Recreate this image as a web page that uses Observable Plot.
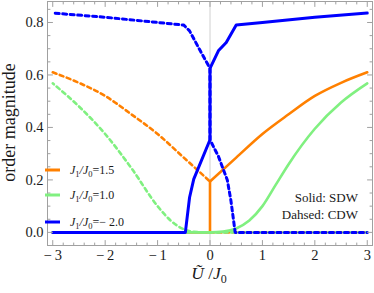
<!DOCTYPE html>
<html><head><meta charset="utf-8">
<script src="https://cdn.jsdelivr.net/npm/d3@7"></script>
<script src="https://cdn.jsdelivr.net/npm/@observablehq/plot@0.6"></script>
<style>html,body{margin:0;padding:0;background:#fff;}</style>
</head><body><div id="chart"></div>
<script>
// ---- series labels and colours
const seriesLabels = ["1.5", "1.0", "\u2212 2.0"];
const seriesColors = ["#ff8000", "#80f080", "#0000ff"];
const annotations = ["Solid: SDW", "Dahsed: CDW"];

// ---- J1/J0 = 1.5 (orange)
const orangeCDW_x = [-3, -2.5, -2, -1.5, -1, -0.5, 0];
const orangeCDW_y = [0.61, 0.57, 0.52, 0.45, 0.375, 0.285, 0.194];
const orangeCDWzero_x = [0, 3];
const orangeCDWzero_y = [0, 0];
const orangeSDWstep_x = [-3, 0, 0];
const orangeSDWstep_y = [0, 0, 0.194];
const orangeSDW_x = [0, 0.5, 1, 1.5, 2, 2.5, 3];
const orangeSDW_y = [0.194, 0.285, 0.375, 0.45, 0.52, 0.57, 0.61];

// ---- J1/J0 = 1.0 (green)
const greenCDW_x = [-3, -2.5, -2, -1.5, -1, -0.75, -0.5, -0.3, 0, 3];
const greenCDW_y = [0.568, 0.48, 0.375, 0.245, 0.1, 0.045, 0.012, 0.002, 0, 0];
const greenSDW_x = [-3, 0, 0.25, 0.5, 0.75, 1, 1.25, 1.5, 2, 2.5, 3];
const greenSDW_y = [0, 0, 0.003, 0.015, 0.045, 0.1, 0.18, 0.26, 0.395, 0.495, 0.568];

// ---- J1/J0 = -2.0 (blue)
const blueCDW_x = [-3, -2, -1, -0.5, -0.39, -0.185, 0, 0, 0.16, 0.33, 0.4, 0.48, 3];
const blueCDW_y = [0.836, 0.82, 0.80, 0.79, 0.768, 0.692, 0.625, 0.353, 0.29, 0.2, 0.12, 0, 0];
const blueSDW_x = [-3, -0.47, -0.39, -0.31, 0, 0, 0.16, 0.31, 0.5, 1, 2, 3];
const blueSDW_y = [0, 0, 0.133, 0.203, 0.353, 0.625, 0.692, 0.724, 0.79, 0.80, 0.82, 0.836];

// ---- ticks
const xTicks = [-3, -2, -1, 0, 1, 2, 3];
const xTickLabels = ["\u2212\u20093", "\u2212\u20092", "\u2212\u20091", "0", "1", "2", "3"];
const yTicks = [0, 0.2, 0.4, 0.6, 0.8];
const yTickLabels = ["0.0", "0.2", "0.4", "0.6", "0.8"];
const xMinor = d3.range(-3.0, 3.01, 0.2).map(v => +v.toFixed(2)).filter(v => Math.abs(v - Math.round(v)) > 1e-6);
const yMinor = d3.range(-0.05, 0.881, 0.05).map(v => +v.toFixed(2)).filter(v => Math.abs(v * 5 - Math.round(v * 5)) > 1e-6);

const rows = (xs, ys) => xs.map((x, i) => ({x, y: ys[i]}));
const font = "'Liberation Serif', 'Times New Roman', serif";
const frameColor = "#a0a0a0";
const tickShape = {draw(ctx, l) { ctx.moveTo(0, 0); ctx.lineTo(0, -l); }};
const tick = (data, horiz, anchor, rotate, len) =>
  (horiz ? Plot.vectorX : Plot.vectorY)(data, {
    [horiz ? "x" : "y"]: d => d, frameAnchor: anchor, anchor: "start",
    length: len, rotate, shape: tickShape, stroke: frameColor, strokeWidth: 1
  });

const dash = "4,3.5";
const plot = Plot.plot({
  width: 374, height: 293,
  marginLeft: 47, marginRight: 2, marginTop: 1, marginBottom: 48,
  x: {domain: [-3.1, 3.1], label: null},
  y: {domain: [-0.05, 0.88], label: null},
  style: {fontFamily: font, background: "#fff"},
  marks: [
    Plot.ruleX([0], {stroke: "#d0d0d0", strokeWidth: 1}),
    // orange
    Plot.line(rows(orangeCDW_x, orangeCDW_y), {x: "x", y: "y", stroke: seriesColors[0], strokeWidth: 2.6, strokeDasharray: dash, curve: "monotone-x"}),
    Plot.line(rows(orangeCDWzero_x, orangeCDWzero_y), {x: "x", y: "y", stroke: seriesColors[0], strokeWidth: 2.6, strokeDasharray: dash}),
    Plot.line(rows(orangeSDWstep_x, orangeSDWstep_y), {x: "x", y: "y", stroke: seriesColors[0], strokeWidth: 2.6}),
    Plot.line(rows(orangeSDW_x, orangeSDW_y), {x: "x", y: "y", stroke: seriesColors[0], strokeWidth: 2.6, curve: "monotone-x"}),
    // green
    Plot.line(rows(greenCDW_x, greenCDW_y), {x: "x", y: "y", stroke: seriesColors[1], strokeWidth: 2.6, strokeDasharray: dash, strokeDashoffset: 2.5, curve: "monotone-x"}),
    Plot.line(rows(greenSDW_x, greenSDW_y), {x: "x", y: "y", stroke: seriesColors[1], strokeWidth: 2.6, curve: "monotone-x"}),
    // blue
    Plot.line(rows(blueCDW_x, blueCDW_y), {x: "x", y: "y", stroke: seriesColors[2], strokeWidth: 3, strokeDasharray: dash, strokeDashoffset: 5}),
    Plot.line(rows(blueSDW_x, blueSDW_y), {x: "x", y: "y", stroke: seriesColors[2], strokeWidth: 3}),
    // frame + ticks
    Plot.frame({stroke: frameColor, strokeWidth: 1}),
    tick(xTicks, true, "bottom", 0, 5),
    tick(xMinor, true, "bottom", 0, 2.5),
    tick(xTicks, true, "top", 180, 5),
    tick(xMinor, true, "top", 180, 2.5),
    tick(yTicks, false, "left", 90, 5),
    tick(yMinor, false, "left", 90, 2.5),
    tick(yTicks, false, "right", -90, 5),
    tick(yMinor, false, "right", -90, 2.5),
    Plot.axisX(xTicks, {tickSize: 0, tickPadding: 4, fontSize: 14.5, fontFamily: font, fill: "#1a1a1a", label: null,
      tickFormat: d => xTickLabels[xTicks.indexOf(d)]}),
    Plot.axisY(yTicks, {tickSize: 0, tickPadding: 4, fontSize: 14.5, fontFamily: font, fill: "#1a1a1a", label: null,
      tickFormat: d => yTickLabels[yTicks.indexOf(d)]})
  ]
});
document.getElementById("chart").append(plot);

const svg = d3.select(plot);
// y axis title
svg.append("text").attr("transform", "translate(15,122.5) rotate(-90)")
  .attr("text-anchor", "middle").attr("font-family", font).attr("font-size", 18)
  .attr("fill", "#1a1a1a").text("order magnitude");
// x axis title
const xl = svg.append("text").attr("x", 209).attr("y", 279).attr("text-anchor", "middle")
  .attr("font-family", font).attr("font-size", 17.5).attr("fill", "#1a1a1a");
xl.append("tspan").attr("font-style", "italic").text("\u0168");
xl.append("tspan").text(" /");
xl.append("tspan").attr("font-style", "italic").text("J");
xl.append("tspan").attr("font-size", 12).attr("dy", 4).text("0");

// legend
const legY = [170, 195, 222];
seriesLabels.forEach((lab, i) => {
  svg.append("line").attr("x1", 45).attr("x2", 60).attr("y1", legY[i]).attr("y2", legY[i])
    .attr("stroke", seriesColors[i]).attr("stroke-width", 3);
  const t = svg.append("text").attr("x", 70).attr("y", legY[i] + 4).attr("text-anchor", "start")
    .attr("font-family", font).attr("font-size", 12).attr("fill", "#1a1a1a");
  t.append("tspan").attr("font-style", "italic").text("J");
  t.append("tspan").attr("font-size", 8.5).attr("dy", 2.5).text("1");
  t.append("tspan").attr("dy", -2.5).attr("font-style", "italic").text("/J");
  t.append("tspan").attr("font-size", 8.5).attr("dy", 2.5).text("0");
  t.append("tspan").attr("dy", -2.5).text("=" + lab);
});

// annotations
annotations.forEach((a, i) => {
  svg.append("text").attr("x", 358).attr("y", [201.5, 219][i]).attr("text-anchor", "end")
    .attr("font-family", font).attr("font-size", 13).attr("fill", "#1a1a1a").text(a);
});
</script></body></html>
